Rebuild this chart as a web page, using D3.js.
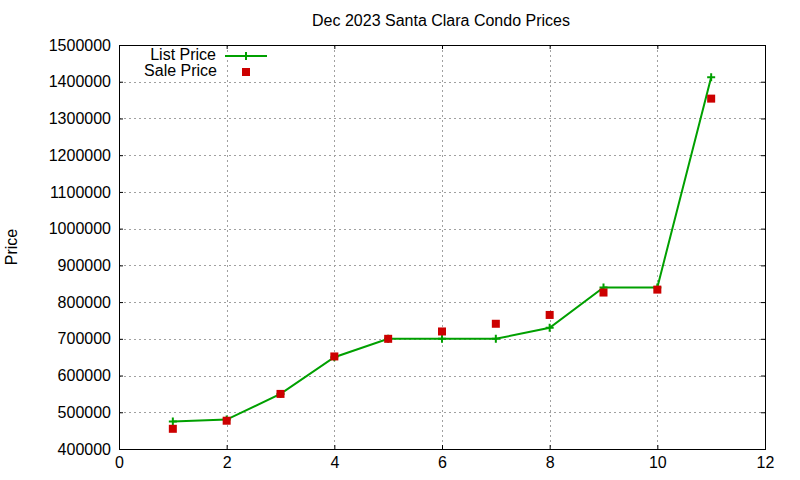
<!DOCTYPE html>
<html>
<head>
<meta charset="utf-8">
<script src="https://cdn.jsdelivr.net/npm/d3@7"></script>
<style>
  body { margin: 0; background: #fff; }
  text { font-family: "Liberation Sans", Arial, sans-serif; fill: #000; }
</style>
</head>
<body>
<div id="chart"></div>
<script>
"use strict";

// chart data
var months = [1, 2, 3, 4, 5, 6, 7, 8, 9, 10, 11];
var listPrices = [475000, 480000, 550000, 650000, 700000, 700000, 700000, 730000, 840000, 840000, 1412000];
var salePrices = [455000, 477000, 550000, 652000, 700000, 720000, 741000, 765000, 826000, 834000, 1354000];
var xTicks = [0, 2, 4, 6, 8, 10, 12];
var yTicks = [400000, 500000, 600000, 700000, 800000, 900000, 1000000, 1100000, 1200000, 1300000, 1400000, 1500000];

var width = 800, height = 480;
var plotLeft = 119, plotRight = 765, plotTop = 45, plotBottom = 449;
var fontSize = "16px";
var lineColor = "#00a000";
var pointColor = "#cc0000";
var gridColor = "#a0a0a0";

var svg = d3.select("#chart")
  .append("svg")
  .attr("width", width)
  .attr("height", height);

var x = d3.scaleLinear().domain([0, 12]).range([plotLeft, plotRight]);
var y = d3.scaleLinear().domain([400000, 1500000]).range([plotBottom, plotTop]);

// grid lines
svg.append("g")
  .selectAll("line")
  .data(xTicks.slice(1, -1))
  .enter()
  .append("line")
    .attr("x1", function(d) { return Math.round(x(d)) + 0.5; })
    .attr("x2", function(d) { return Math.round(x(d)) + 0.5; })
    .attr("y1", plotTop)
    .attr("y2", plotBottom)
    .attr("stroke", gridColor)
    .attr("stroke-dasharray", "2,3");

svg.append("g")
  .selectAll("line")
  .data(yTicks.slice(1, -1))
  .enter()
  .append("line")
    .attr("x1", plotLeft)
    .attr("x2", plotRight)
    .attr("y1", function(d) { return Math.round(y(d)) + 0.5; })
    .attr("y2", function(d) { return Math.round(y(d)) + 0.5; })
    .attr("stroke", gridColor)
    .attr("stroke-dasharray", "2,3");

// axes, ticks pointing inward and mirrored
var bottomAxis = d3.axisBottom(x).tickValues(xTicks).tickSizeInner(-4).tickSizeOuter(0).tickPadding(8);
var topAxis = d3.axisTop(x).tickValues(xTicks).tickSizeInner(-4).tickSizeOuter(0).tickFormat("");
var leftAxis = d3.axisLeft(y).tickValues(yTicks).tickSizeInner(-4).tickSizeOuter(0).tickPadding(8).tickFormat(d3.format("d"));
var rightAxis = d3.axisRight(y).tickValues(yTicks).tickSizeInner(-4).tickSizeOuter(0).tickFormat("");

function styleAxis(g) {
  g.selectAll("path, line").attr("stroke", "#000");
  g.selectAll("text").style("font-size", fontSize).attr("fill", "#000");
  g.select(".domain").remove();
}

svg.append("g").attr("transform", "translate(0," + plotBottom + ")").call(bottomAxis).call(styleAxis);
svg.append("g").attr("transform", "translate(0," + plotTop + ")").call(topAxis).call(styleAxis);
svg.append("g").attr("transform", "translate(" + plotLeft + ",0)").call(leftAxis).call(styleAxis);
svg.append("g").attr("transform", "translate(" + plotRight + ",0)").call(rightAxis).call(styleAxis);

svg.append("rect")
  .attr("x", plotLeft + 0.5)
  .attr("y", plotTop + 0.5)
  .attr("width", plotRight - plotLeft)
  .attr("height", plotBottom - plotTop)
  .attr("fill", "none")
  .attr("stroke", "#000")
  .attr("stroke-width", 1);

// list price line with + markers
var line = d3.line()
  .x(function(d, i) { return x(months[i]); })
  .y(function(d) { return y(d); });

svg.append("path")
  .datum(listPrices)
  .attr("d", line)
  .attr("fill", "none")
  .attr("stroke", lineColor)
  .attr("stroke-width", 2);

var plusSize = 4;
function drawPlus(g, cx, cy) {
  g.append("path")
    .attr("d", "M" + (cx - plusSize) + "," + cy + "H" + (cx + plusSize) + "M" + cx + "," + (cy - plusSize) + "V" + (cy + plusSize))
    .attr("stroke", lineColor)
    .attr("stroke-width", 2);
}

var plusGroup = svg.append("g");
listPrices.forEach(function(d, i) {
  drawPlus(plusGroup, x(months[i]), y(d));
});

// sale price squares
var squareSize = 8;
svg.append("g")
  .selectAll("rect")
  .data(salePrices)
  .enter()
  .append("rect")
    .attr("x", function(d, i) { return x(months[i]) - squareSize / 2; })
    .attr("y", function(d) { return y(d) - squareSize / 2; })
    .attr("width", squareSize)
    .attr("height", squareSize)
    .attr("fill", pointColor);

// title and labels
svg.append("text")
  .attr("x", 441)
  .attr("y", 26)
  .attr("text-anchor", "middle")
  .style("font-size", fontSize)
  .text("Dec 2023 Santa Clara Condo Prices");

svg.append("text")
  .attr("transform", "translate(17," + ((plotTop + plotBottom) / 2) + ") rotate(-90)")
  .attr("text-anchor", "middle")
  .style("font-size", fontSize)
  .text("Price");

// legend
var legend = svg.append("g");
legend.append("text")
  .attr("x", 216)
  .attr("y", 60)
  .attr("text-anchor", "end")
  .style("font-size", fontSize)
  .text("List Price");
legend.append("line")
  .attr("x1", 225)
  .attr("x2", 267)
  .attr("y1", 56)
  .attr("y2", 56)
  .attr("stroke", lineColor)
  .attr("stroke-width", 2);
drawPlus(legend, 246, 56);

legend.append("text")
  .attr("x", 217)
  .attr("y", 76)
  .attr("text-anchor", "end")
  .style("font-size", fontSize)
  .text("Sale Price");
legend.append("rect")
  .attr("x", 246 - squareSize / 2)
  .attr("y", 72 - squareSize / 2)
  .attr("width", squareSize)
  .attr("height", squareSize)
  .attr("fill", pointColor);
</script>
</body>
</html>
